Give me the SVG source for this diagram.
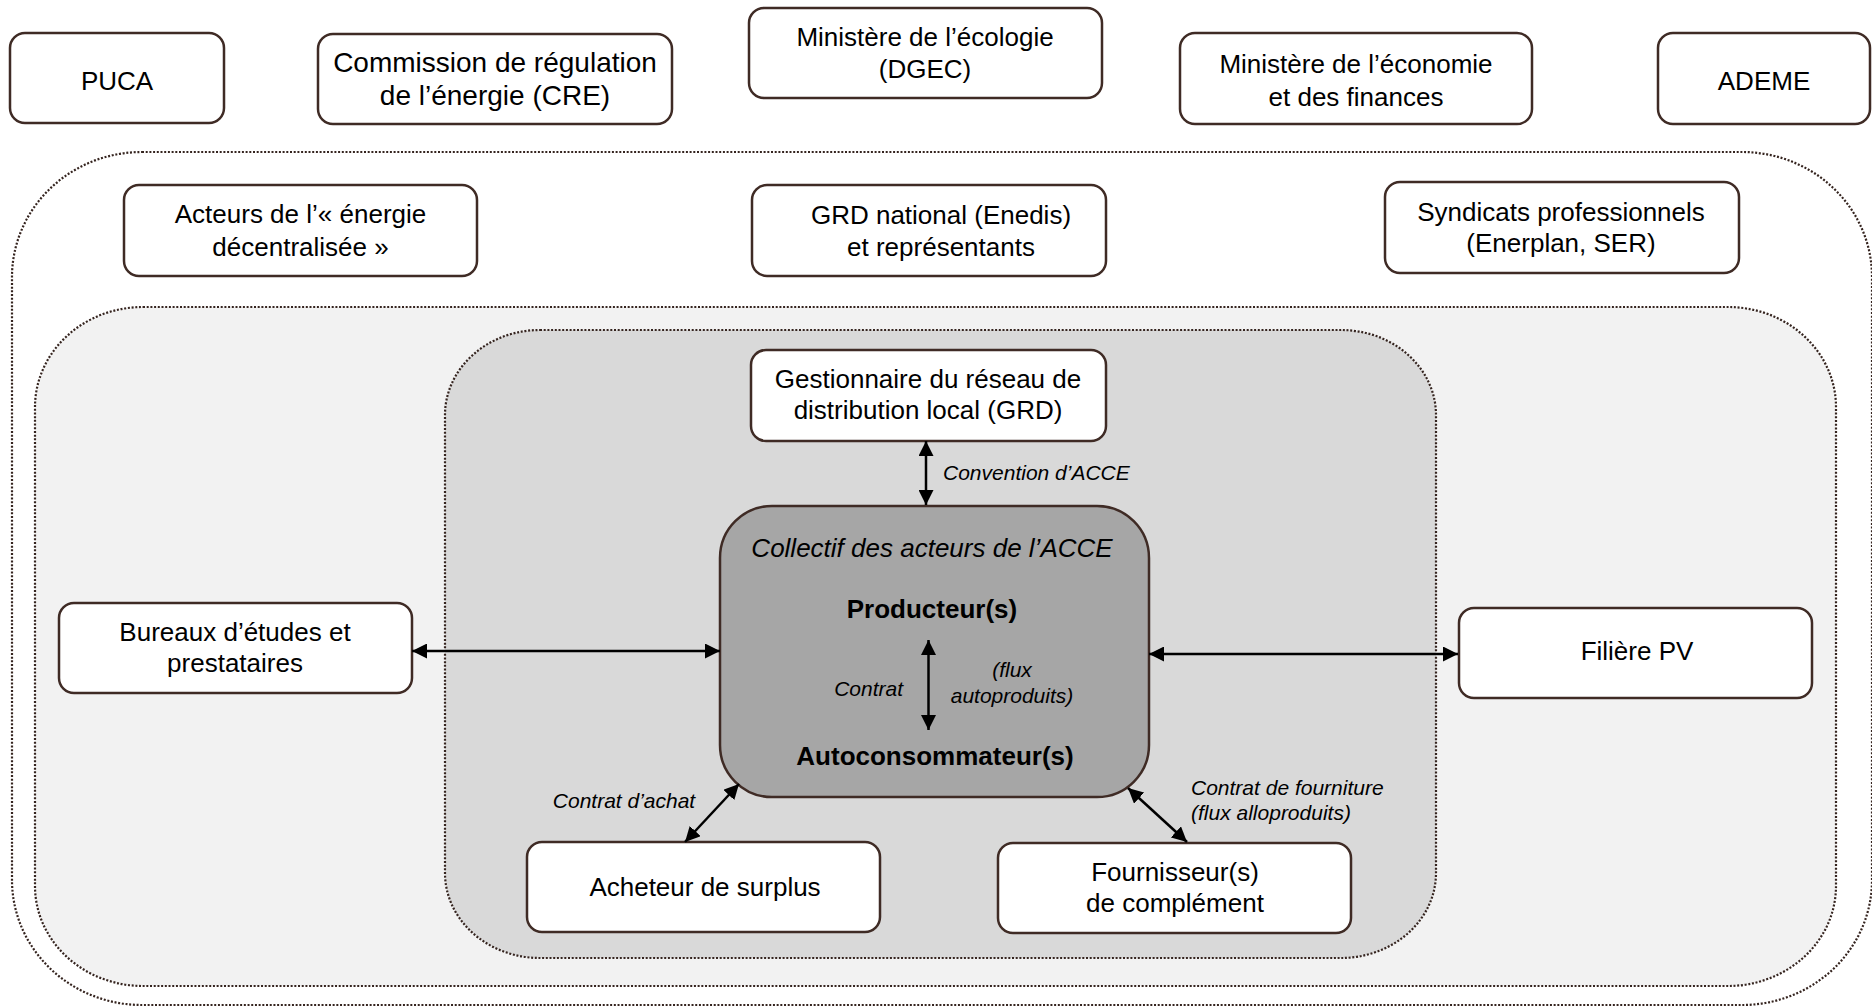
<svg xmlns="http://www.w3.org/2000/svg" width="1872" height="1006" viewBox="0 0 1872 1006">
<defs>
<style>
.bg{fill:#ffffff}
.zone{stroke:#35241f;stroke-width:2.2;stroke-dasharray:2 1.7}
.box{fill:#ffffff;stroke:#3f2b25;stroke-width:2.5}
.core{fill:#a6a6a6;stroke:#3f2b25;stroke-width:2.5}
text{font-family:"Liberation Sans",Arial,Helvetica,sans-serif;fill:#000}
.t{font-size:26px;text-anchor:middle}
.t28{font-size:28px;text-anchor:middle}
.b{font-size:26px;font-weight:bold;text-anchor:middle}
.i{font-size:26px;font-style:italic;text-anchor:middle}
.s{font-size:21px;font-style:italic}
.link{stroke:#000;stroke-width:2.5;fill:none;marker-start:url(#ah);marker-end:url(#ah)}
</style>
<marker id="ah" viewBox="0 0 10 10" refX="10" refY="5" markerWidth="15" markerHeight="15" markerUnits="userSpaceOnUse" orient="auto-start-reverse">
<path d="M0,0 L10,5 L0,10 z" fill="#000"/>
</marker>
</defs>
<rect class="bg" x="0" y="0" width="1872" height="1006"/>
<g id="zones">
<rect class="zone" x="12" y="152" width="1860" height="853" rx="130" ry="125" fill="#ffffff"/>
<rect class="zone" x="35" y="307" width="1801" height="679" rx="108" ry="100" fill="#f2f2f2"/>
<rect class="zone" x="445" y="330" width="991" height="628" rx="95" ry="85" fill="#d9d9d9"/>
</g>
<g id="puca"><rect class="box" x="10" y="33" width="214" height="90" rx="15"/><text class="t" x="117" y="90">PUCA</text></g>
<g id="cre"><rect class="box" x="318" y="34" width="354" height="90" rx="15"/><text class="t28" x="495" y="72">Commission de régulation</text><text class="t28" x="495" y="105">de l’énergie (CRE)</text></g>
<g id="ecologie"><rect class="box" x="749" y="8" width="353" height="90" rx="15"/><text class="t" x="925" y="45.5">Ministère de l’écologie</text><text class="t" x="925" y="78">(DGEC)</text></g>
<g id="economie"><rect class="box" x="1180" y="33" width="352" height="91" rx="15"/><text class="t" x="1356" y="73">Ministère de l’économie</text><text class="t" x="1356" y="105.5">et des finances</text></g>
<g id="ademe"><rect class="box" x="1658" y="33" width="212" height="91" rx="15"/><text class="t" x="1764" y="90">ADEME</text></g>
<g id="acteurs"><rect class="box" x="124" y="185" width="353" height="91" rx="15"/><text class="t" x="300.5" y="223">Acteurs de l’« énergie</text><text class="t" x="300.5" y="255.5">décentralisée »</text></g>
<g id="grd-national"><rect class="box" x="752" y="185" width="354" height="91" rx="15"/><text class="t" x="941" y="224">GRD national (Enedis)</text><text class="t" x="941" y="256">et représentants</text></g>
<g id="syndicats"><rect class="box" x="1385" y="182" width="354" height="91" rx="15"/><text class="t" x="1561" y="220.5">Syndicats professionnels</text><text class="t" x="1561" y="252">(Enerplan, SER)</text></g>
<g id="grd-local"><rect class="box" x="751" y="350" width="355" height="91" rx="15"/><text class="t" x="928" y="387.5">Gestionnaire du réseau de</text><text class="t" x="928" y="418.5">distribution local (GRD)</text></g>
<g id="collectif"><rect class="core" x="720" y="506" width="429" height="291" rx="52"/><text class="i" x="932" y="557">Collectif des acteurs de l’ACCE</text><text class="b" x="932" y="618">Producteur(s)</text><text class="b" x="935" y="765">Autoconsommateur(s)</text></g>
<g id="bureaux"><rect class="box" x="59" y="603" width="353" height="90" rx="15"/><text class="t" x="235" y="641">Bureaux d’études et</text><text class="t" x="235" y="672">prestataires</text></g>
<g id="filiere"><rect class="box" x="1459" y="608" width="353" height="90" rx="15"/><text class="t" x="1637" y="660">Filière PV</text></g>
<g id="acheteur"><rect class="box" x="527" y="842" width="353" height="90" rx="15"/><text class="t" x="705" y="896">Acheteur de surplus</text></g>
<g id="fournisseur"><rect class="box" x="998" y="843" width="353" height="90" rx="15"/><text class="t" x="1175" y="880.5">Fournisseur(s)</text><text class="t" x="1175" y="911.5">de complément</text></g>
<g id="connectors">
<line class="link" x1="926" y1="441" x2="926" y2="505"/>
<line class="link" x1="412" y1="651" x2="720" y2="651"/>
<line class="link" x1="1149" y1="654" x2="1458" y2="654"/>
<line class="link" x1="928.5" y1="640" x2="928.5" y2="730"/>
<line class="link" x1="739" y1="784" x2="685" y2="842"/>
<line class="link" x1="1128" y1="788" x2="1187" y2="842"/>
<text class="s" x="943" y="480">Convention d’ACCE</text>
<text class="s" x="903" y="696" text-anchor="end">Contrat</text>
<text class="s" x="1012" y="677" text-anchor="middle">(flux</text>
<text class="s" x="1012" y="703" text-anchor="middle">autoproduits)</text>
<text class="s" x="624" y="808" text-anchor="middle">Contrat d’achat</text>
<text class="s" x="1191" y="795">Contrat de fourniture</text>
<text class="s" x="1191" y="820">(flux alloproduits)</text>
</g>
</svg>
